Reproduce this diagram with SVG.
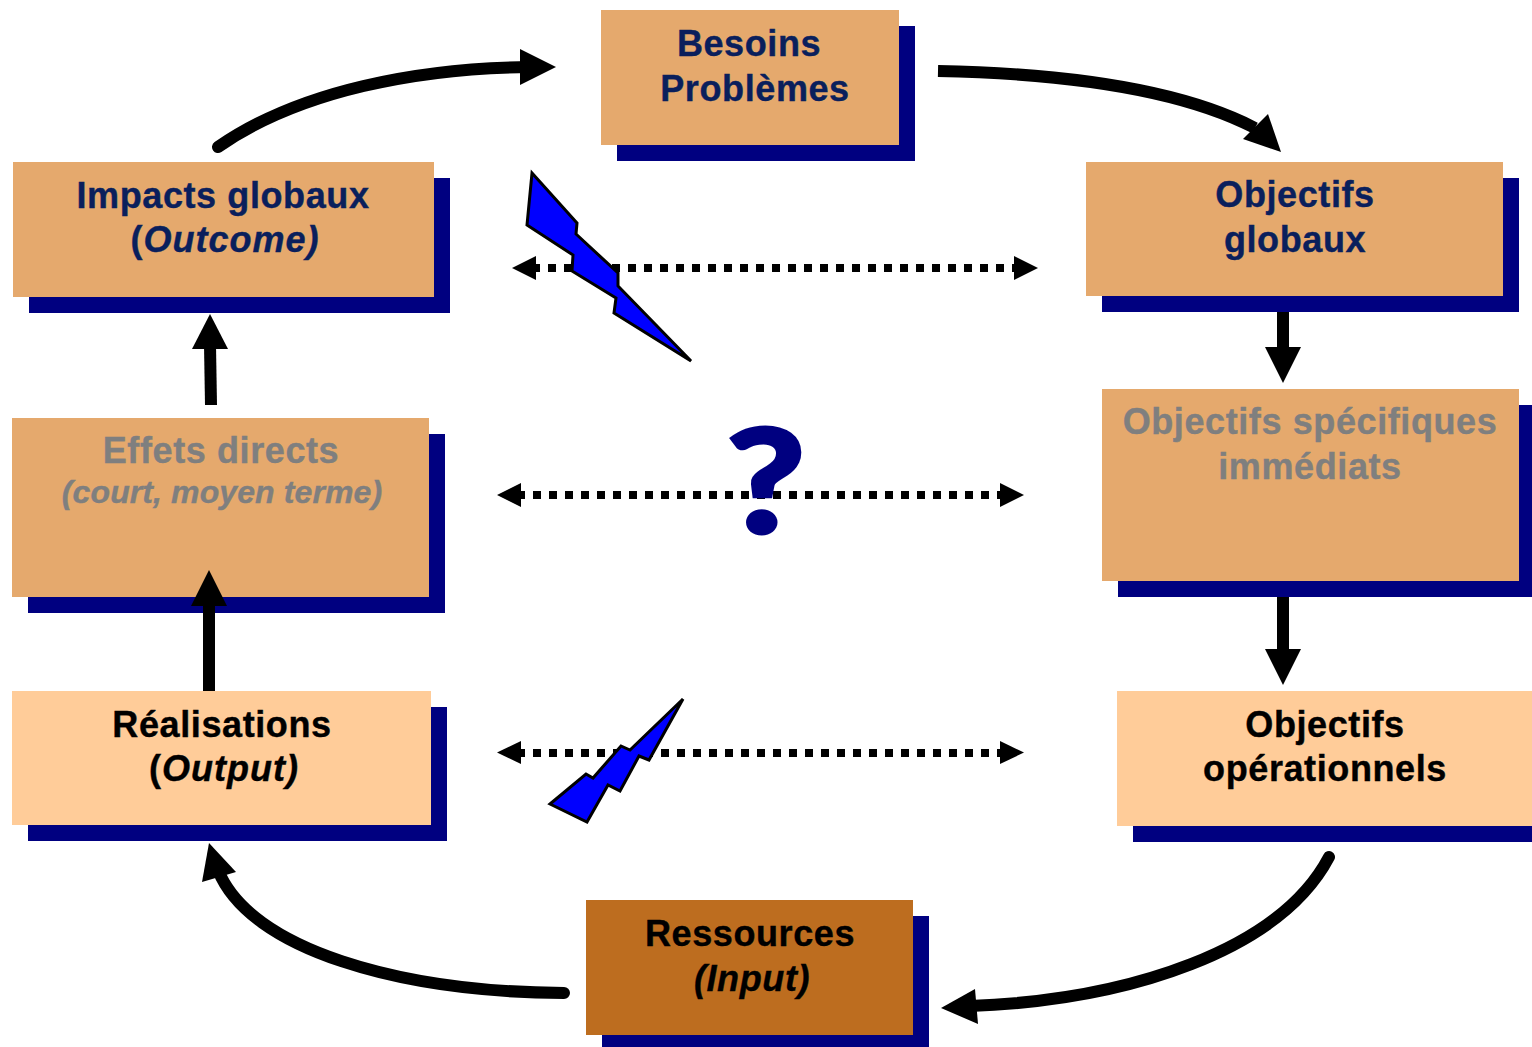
<svg xmlns="http://www.w3.org/2000/svg" width="1532" height="1047" viewBox="0 0 1532 1047">
<style>
.sh{fill:#000080}
.a{fill:#e5a96d}
.b{fill:#ffcc99}
.c{fill:#bd6d1f}
text{font-family:"Liberation Sans",Arial,sans-serif;font-weight:700;font-size:36px;text-anchor:middle;letter-spacing:.6px;stroke-width:.4px}
.n{fill:#0a1f5c;stroke:#0a1f5c}
.g{fill:#7f7f7f;stroke:#7f7f7f}
.k{fill:#000;stroke:#000}
.i{font-style:italic}
.w{letter-spacing:1px}
.curve{fill:none;stroke:#000;stroke-width:12;stroke-linecap:round}
.str{fill:none;stroke:#000;stroke-width:12}
.dot{fill:none;stroke:#000;stroke-width:8;stroke-dasharray:8 8}
.bolt{fill:#0000ff;stroke:#000;stroke-width:3;stroke-linejoin:miter}
</style>
<rect width="1532" height="1047" fill="#fff"/>
<g id="node-besoins"><rect class="sh" x="617" y="26" width="298" height="135"/><rect class="a" x="601" y="10" width="298" height="135"/><text class="n" x="749" y="56">Besoins</text><text class="n" x="755" y="101">Problèmes</text></g>
<g id="node-impacts"><rect class="sh" x="29" y="178" width="421" height="135"/><rect class="a" x="13" y="162" width="421" height="135"/><text class="n" x="223" y="208">Impacts globaux</text><text class="n w" x="225" y="252">(<tspan class="i">Outcome)</tspan></text></g>
<g id="node-objglob"><rect class="sh" x="1102" y="178" width="417" height="134"/><rect class="a" x="1086" y="162" width="417" height="134"/><text class="n" x="1295" y="207">Objectifs</text><text class="n" x="1295" y="252">globaux</text></g>
<g id="node-effets"><rect class="sh" x="28" y="434" width="417" height="179"/><rect class="a" x="12" y="418" width="417" height="179"/><text class="g" x="221" y="463">Effets directs</text><text class="g i" x="222" y="503" style="font-size:32px;letter-spacing:.1px">(court, moyen terme)</text></g>
<g id="node-objspec"><rect class="sh" x="1118" y="405" width="414" height="192"/><rect class="a" x="1102" y="389" width="417" height="192"/><text class="g" x="1310" y="434">Objectifs spécifiques</text><text class="g" x="1310" y="479">immédiats</text></g>
<g id="node-realisations"><rect class="sh" x="28" y="707" width="419" height="134"/><rect class="b" x="12" y="691" width="419" height="134"/><text class="k" x="222" y="737">Réalisations</text><text class="k w" x="224" y="781">(<tspan class="i">Output)</tspan></text></g>
<g id="node-objop"><rect class="sh" x="1133" y="707" width="399" height="135"/><rect class="b" x="1117" y="691" width="415" height="135"/><text class="k" x="1325" y="737">Objectifs</text><text class="k" x="1325" y="781">opérationnels</text></g>
<g id="node-ressources"><rect class="sh" x="602" y="916" width="327" height="131"/><rect class="c" x="586" y="900" width="327" height="135"/><text class="k" x="750" y="946">Ressources</text><text class="k i" x="752" y="991">(Input)</text></g>
<g id="connectors">
<path class="curve" d="M218 147C300 90 420 68 530 67"/><path d="M556 67L520 49V85Z"/>
<path class="str" d="M938 71C1040 73 1170 84 1255 128"/><path d="M1281 152L1268 114L1243 139Z"/>
<path class="curve" d="M1329 857C1280 950 1130 1000 970 1006"/><path d="M941 1008L975 989L978 1024Z"/>
<path class="curve" d="M564 993C400 992 250 950 218 870"/><path d="M209 843L202 882L236 872Z"/>
<path class="str" d="M211 405L210 345"/><path d="M210 314L192 349H228Z"/>
<path class="str" d="M209 691V600"/><path d="M209 570L191 606H227Z"/>
<path class="str" d="M1283 312V350"/><path d="M1283 383L1265 347H1301Z"/>
<path class="str" d="M1283 597V652"/><path d="M1283 685L1265 649H1301Z"/>
<path class="dot" d="M532 268H1020"/><path d="M512 268L536 256V280Z"/><path d="M1038 268L1014 256V280Z"/>
<path class="dot" d="M517 495H1006"/><path d="M497 495L521 483V507Z"/><path d="M1024 495L1000 483V507Z"/>
<path class="dot" d="M517 753H1006"/><path d="M497 752.5L521 741V764Z"/><path d="M1024 752.5L1000 741V764Z"/>
</g>
<g id="bolt-1"><path class="bolt" d="M532 173L577 223L576 234L618 273L618 286L691 361L614 313L616 298L572 271L573 255L527 225Z"/></g>
<g id="bolt-2"><path class="bolt" d="M683 699L649 760L639 756L620 791L608 785L587 822L550 804L586 774L593 778L621 746L630 750Z"/></g>
<g id="question"><text transform="translate(766 532) scale(1.15 .96)" x="0" y="0" style="font-family:Lato,'Liberation Sans',sans-serif;font-size:148px;fill:#000080;stroke:#000080;stroke-width:5px;letter-spacing:0">?</text></g>
</svg>
